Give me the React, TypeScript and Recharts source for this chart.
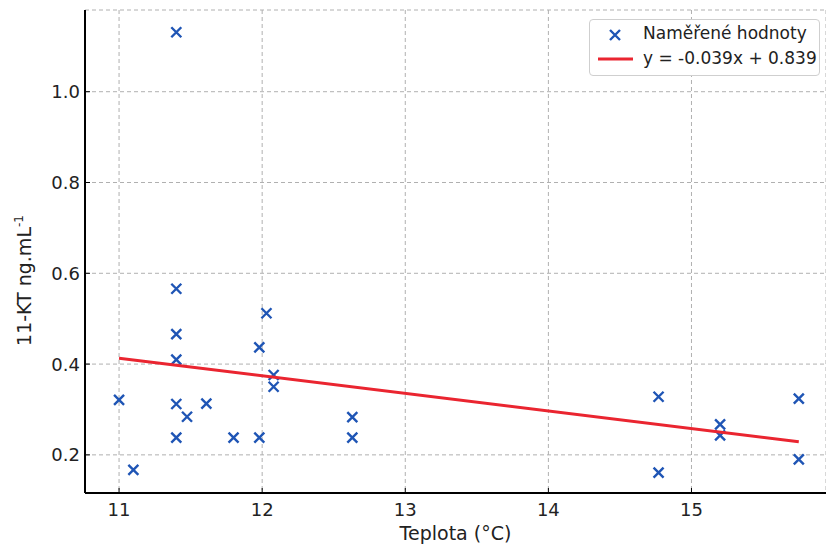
import { ScatterChart, Scatter, XAxis, YAxis, CartesianGrid } from 'recharts';

// measured points (temperature °C, 11-KT ng/mL)
const temps = [11.4, 11.4, 11.4, 11.4, 11.0, 11.4, 11.475, 11.61, 11.4, 11.8, 11.98, 11.1, 11.98, 12.03, 12.08, 12.08, 12.63, 12.63, 14.77, 14.77, 15.2, 15.2, 15.75, 15.75];
const levels = [1.131, 0.566, 0.466, 0.41, 0.321, 0.312, 0.284, 0.313, 0.238, 0.238, 0.238, 0.167, 0.437, 0.512, 0.376, 0.35, 0.283, 0.238, 0.328, 0.161, 0.267, 0.243, 0.324, 0.19];

// fitted line end points
const fitX = [11.0, 15.75];
const fitY = [0.413, 0.229];

const xTicks = [11, 12, 13, 14, 15];
const yTicks = [0.2, 0.4, 0.6, 0.8, 1.0];

const points = temps.map((t, i) => ({ x: t, y: levels[i] }));
const fitLine = fitX.map((t, i) => ({ x: t, y: fitY[i] }));

const BLUE = '#1f55b5';
const RED = '#ea2530';
const FONT = '"DejaVu Sans", sans-serif';

const Cross = ({ cx, cy }: any) => (
    <path
        d={`M${cx - 5},${cy - 5}L${cx + 5},${cy + 5}M${cx - 5},${cy + 5}L${cx + 5},${cy - 5}`}
        stroke={BLUE}
        strokeWidth={2.4}
        fill="none"
    />
);

const YTick = ({ x, y, payload }: any) => (
    <g>
        <line x1={x + 5} x2={x + 10} y1={y} y2={y} stroke="#000" strokeWidth={1} />
        <text x={x} y={y} dy={6.5} textAnchor="end" fontSize={18} fontFamily={FONT} fill="#222">
            {payload.value.toFixed(1)}
        </text>
    </g>
);

const XTick = ({ x, y, payload }: any) => (
    <g>
        <line x1={x} x2={x} y1={y - 13} y2={y - 18} stroke="#000" strokeWidth={1} />
        <text x={x} y={y} dy={10} textAnchor="middle" fontSize={18} fontFamily={FONT} fill="#222">
            {payload.value}
        </text>
    </g>
);

const App = () => {
    return (
        <div style={{ position: 'absolute', left: 0, top: 0, width: 826, height: 546, background: '#fff' }}>
            <ScatterChart width={826} height={546} margin={{ top: 10, right: 0, bottom: 0, left: 0 }}>
                <CartesianGrid stroke="#b0b0b0" strokeDasharray="4 3" />
                <XAxis
                    type="number"
                    dataKey="x"
                    domain={[10.762, 15.94]}
                    ticks={xTicks}
                    allowDataOverflow
                    height={53}
                    tickLine={false}
                    tickSize={13}
                    tickMargin={0}
                    axisLine={{ stroke: '#000', strokeWidth: 2 }}
                    tick={<XTick />}
                    label={({ viewBox }: any) => (
                        <text
                            x={viewBox.x + viewBox.width / 2}
                            y={viewBox.y + 47}
                            textAnchor="middle"
                            fontSize={19}
                            fontFamily={FONT}
                            fill="#222"
                        >
                            Teplota (°C)
                        </text>
                    )}
                />
                <YAxis
                    type="number"
                    dataKey="y"
                    domain={[0.116, 1.18]}
                    ticks={yTicks}
                    allowDataOverflow
                    width={85}
                    tickLine={false}
                    tickSize={5}
                    tickMargin={0}
                    axisLine={{ stroke: '#000', strokeWidth: 2 }}
                    tick={<YTick />}
                    label={({ viewBox }: any) => (
                        <text
                            transform={`translate(${viewBox.x + 31},${viewBox.y + viewBox.height / 2 + 29}) rotate(-90)`}
                            textAnchor="middle"
                            fontSize={19}
                            fontFamily={FONT}
                            fill="#222"
                        >
                            11-KT ng.mL<tspan dy={-8} fontSize={12}>-1</tspan>
                        </text>
                    )}
                />
                <Scatter data={points} shape={<Cross />} isAnimationActive={false} />
                <Scatter
                    data={fitLine}
                    line={{ stroke: RED, strokeWidth: 3 }}
                    lineType="joint"
                    shape={() => <g />}
                    isAnimationActive={false}
                />
            </ScatterChart>
            <div
                style={{
                    position: 'absolute',
                    left: 589,
                    top: 19,
                    width: 231,
                    height: 57,
                    boxSizing: 'border-box',
                    border: '1px solid #cfcfcf',
                    borderRadius: 4,
                    background: '#fff',
                    fontFamily: FONT,
                    fontSize: 17,
                    color: '#222',
                }}
            >
                <svg width={40} height={54} style={{ position: 'absolute', left: 6, top: 0 }}>
                    <path d="M14,10L24,20M14,20L24,10" stroke={BLUE} strokeWidth={2.4} />
                    <line x1={2} x2={37} y1={39} y2={39} stroke={RED} strokeWidth={3} />
                </svg>
                <div style={{ position: 'absolute', left: 53, top: 3, whiteSpace: 'nowrap' }}>Naměřené hodnoty</div>
                <div style={{ position: 'absolute', left: 53, top: 28, whiteSpace: 'nowrap' }}>y = -0.039x + 0.839</div>
            </div>
        </div>
    );
};

export default App;
